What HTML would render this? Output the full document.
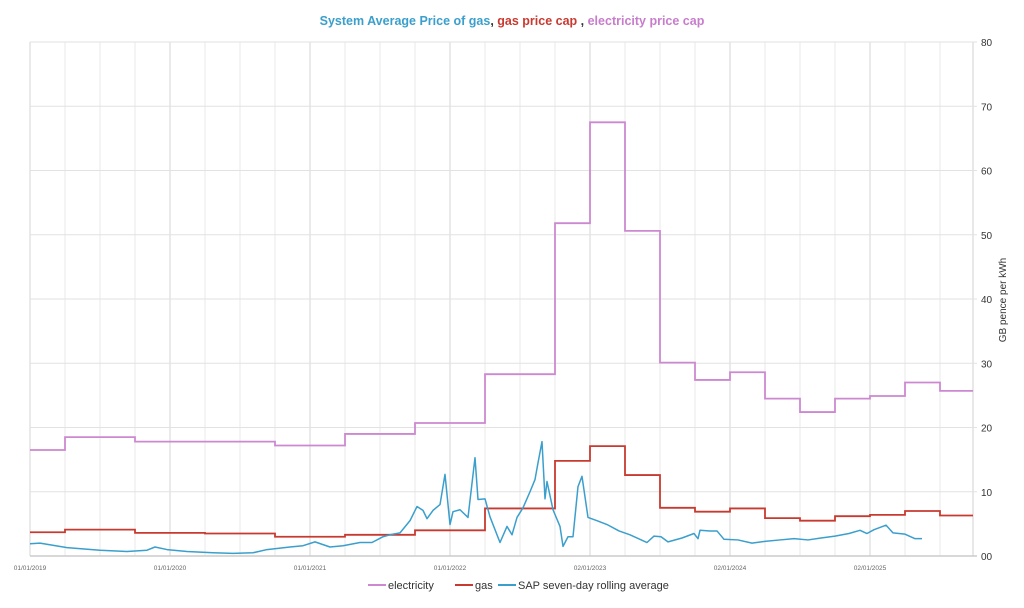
<!DOCTYPE html>
<html><head><meta charset="utf-8">
<style>
body{margin:0;background:#fff;width:1024px;height:608px;overflow:hidden;font-family:"Liberation Sans",sans-serif}
svg{position:absolute;left:0;top:0}
</style></head>
<body>
<svg id="chart" width="1024" height="608">
<text x="512" y="25" text-anchor="middle" font-size="12.5" font-weight="bold"><tspan fill="#3a9fcc">System Average Price of gas</tspan><tspan fill="#333">, </tspan><tspan fill="#c83a30">gas price cap</tspan><tspan fill="#333"> , </tspan><tspan fill="#c77dcc">electricity price cap</tspan></text>
<g id="grid"></g>
<g id="series"></g>
<text transform="translate(1006,300) rotate(-90)" text-anchor="middle" font-size="10" fill="#333">GB pence per kWh</text>
<g>
<g><line x1="368" y1="585" x2="386" y2="585" stroke="#cc88d0" stroke-width="2"/><text x="388" y="589" font-size="11" fill="#333">electricity</text></g>
<g><line x1="455" y1="585" x2="473" y2="585" stroke="#c83a30" stroke-width="2"/><text x="475" y="589" font-size="11" fill="#333">gas</text></g>
<g><line x1="498" y1="585" x2="516" y2="585" stroke="#3a9fcc" stroke-width="2"/><text x="518" y="589" font-size="11" fill="#333">SAP seven-day rolling average</text></g>
</g>
</svg>
<script>
const yTicks=[0,10,20,30,40,50,60,70,80];
const yTickLabels=["00","10","20","30","40","50","60","70","80"];
const xTickYears=[2019,2020,2021,2022,2023,2024,2025];
const xTickLabels=["01/01/2019","01/01/2020","01/01/2021","01/01/2022","02/01/2023","02/01/2024","02/01/2025"];
const elecStartQ=[0,1,3,7,9,11,13,15,16,17,18,19,20,21,22,23,24,25,26];
const elecValues=[16.5,18.5,17.8,17.2,19.0,20.7,28.3,51.8,67.5,50.6,30.1,27.4,28.6,24.5,22.4,24.5,24.9,27.0,25.7];
const gasStartQ=[0,1,3,5,7,9,11,13,15,16,17,18,19,20,21,22,23,24,25,26];
const gasValues=[3.7,4.1,3.6,3.5,3.0,3.3,4.0,7.4,14.8,17.1,12.6,7.5,6.9,7.4,5.9,5.5,6.2,6.4,7.0,6.3];
const sapX=[30,40,67,100,127,147,155,167,187,213,233,253,267,290,303,315,330,343,360,372,383,390,400,410,417,423,427,433,440,445,450,453,460,468,475,478,485,490,500,507,512,517,523,530,535,538,542,545,547,553,560,563,568,573,578,582,588,597,607,619,630,647,654,661,668,682,694,698,700,710,717,724,738,752,766,780,794,808,821,835,849,860,867,874,886,893,905,915,922];
const sapValues=[1.9,2.0,1.3,0.9,0.7,0.9,1.4,1.0,0.7,0.5,0.4,0.5,1.0,1.4,1.6,2.2,1.4,1.6,2.1,2.1,3.0,3.3,3.6,5.5,7.7,7.1,5.8,7.1,8.0,12.7,4.9,6.9,7.2,6.0,15.3,8.8,8.9,6.1,2.1,4.6,3.3,6.0,7.5,10.0,11.9,14.5,17.8,8.9,11.6,7.2,4.6,1.5,3.0,3.0,10.8,12.4,6.0,5.5,4.9,3.9,3.3,2.1,3.1,3.0,2.2,2.8,3.5,2.7,4.0,3.9,3.9,2.6,2.5,2.0,2.3,2.5,2.7,2.5,2.8,3.1,3.5,4.0,3.5,4.1,4.8,3.6,3.4,2.7,2.7];
const X0=30,X1=973,Y0=556,Y80=42,PXYR=140;
const sx=yr=>X0+(yr-2019)*PXYR;
const sq=q=>sx(2019+q/4);
const sy=v=>Y0-(v/80)*(Y0-Y80);
const NS="http://www.w3.org/2000/svg";
function mk(tag,attrs,parent){const e=document.createElementNS(NS,tag);for(const k in attrs)e.setAttribute(k,attrs[k]);parent.appendChild(e);return e;}
const grid=document.getElementById('grid'),ser=document.getElementById('series');
for(let q=0;sq(q)<=X1+1;q++){const l=mk('line',{x1:sq(q),x2:sq(q),y1:Y80,y2:Y0,stroke:q%4==0?'#d4d4d4':'#e8e8e8','stroke-width':1},grid);

}
mk('line',{x1:X1,x2:X1,y1:Y80,y2:Y0,stroke:'#d0d0d0'},grid);
yTicks.forEach((v,i)=>{const l=mk('line',{x1:X0,x2:X1+4,y1:sy(v),y2:sy(v),stroke:i==0?'#cccccc':'#e2e2e2','stroke-width':i==0?1.5:1},grid);


const t=mk('text',{x:X1+8,y:sy(v)+4,'font-size':10,fill:'#333'},grid);t.textContent=yTickLabels[i];

});
xTickYears.forEach((y,i)=>{const t=mk('text',{x:sx(y),y:570,'font-size':6.5,fill:'#666','text-anchor':'middle'},grid);t.textContent=xTickLabels[i];

});
function stepPath(starts,vals){let d='';starts.forEach((q,i)=>{const x1=sq(q),x2=i<starts.length-1?sq(starts[i+1]):X1;const y=sy(vals[i]);d+=(i==0?'M':'L')+x1+','+y+'L'+x2+','+y;});return d;}
const pe=mk('path',{d:stepPath(elecStartQ,elecValues),fill:'none',stroke:'#cc88d0','stroke-width':1.8},ser);


const pg=mk('path',{d:stepPath(gasStartQ,gasValues),fill:'none',stroke:'#c83a30','stroke-width':1.8},ser);


const ps=mk('path',{d:sapX.map((x,i)=>(i?'L':'M')+x+','+sy(sapValues[i])).join(''),fill:'none',stroke:'#3a9fcc','stroke-width':1.5,'stroke-linejoin':'round'},ser);


</script>
</body></html>
